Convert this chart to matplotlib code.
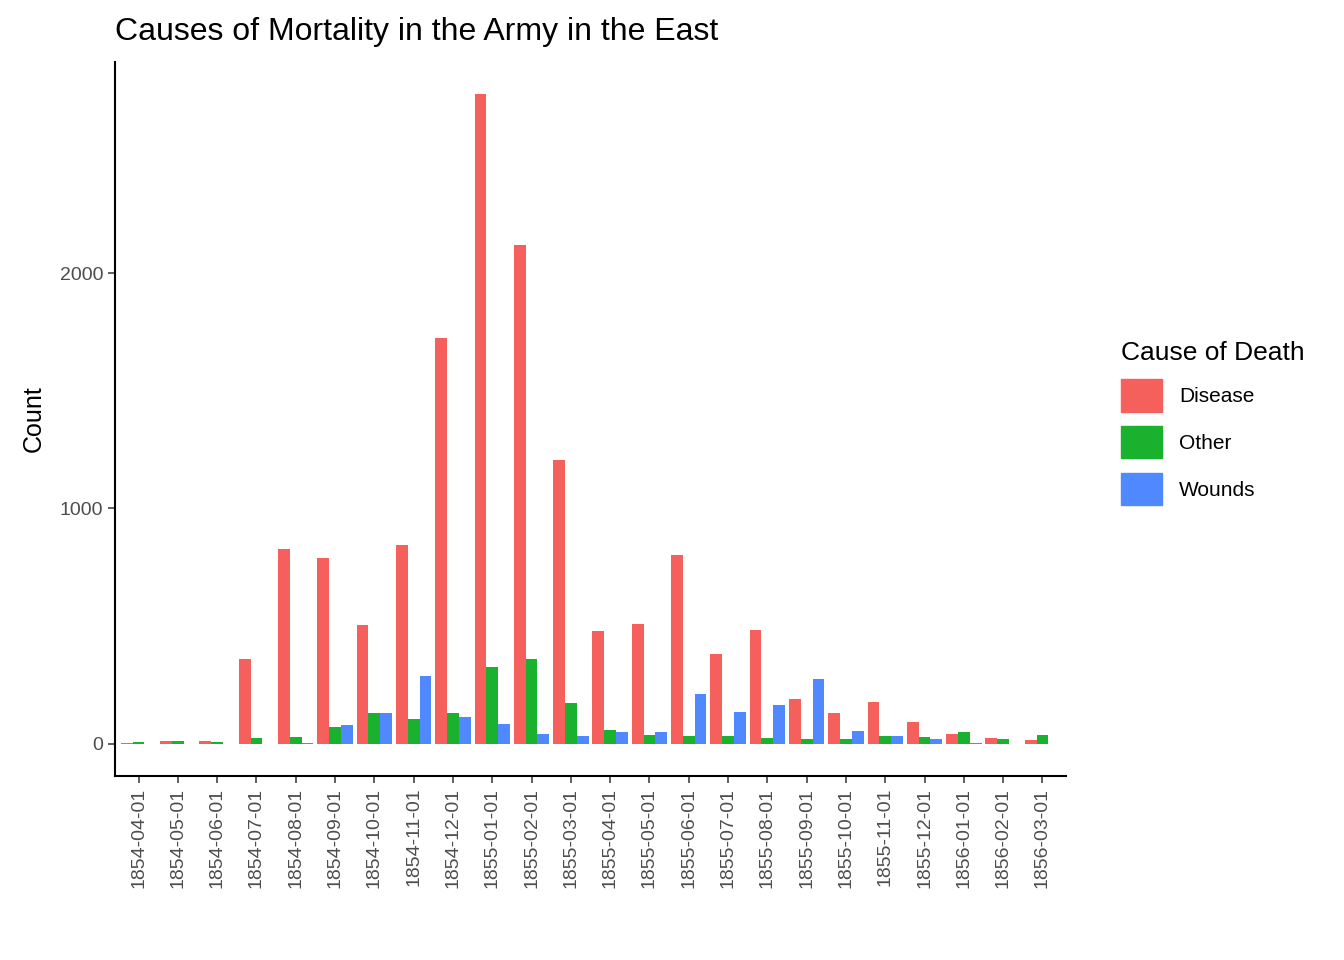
import numpy as np
import matplotlib
matplotlib.use("Agg")
import matplotlib.pyplot as plt
from matplotlib.patches import Patch

plt.rcParams['font.family'] = ['Liberation Sans', 'DejaVu Sans']

dates = ["1854-04-01", "1854-05-01", "1854-06-01", "1854-07-01", "1854-08-01", "1854-09-01",
         "1854-10-01", "1854-11-01", "1854-12-01", "1855-01-01", "1855-02-01", "1855-03-01",
         "1855-04-01", "1855-05-01", "1855-06-01", "1855-07-01", "1855-08-01", "1855-09-01",
         "1855-10-01", "1855-11-01", "1855-12-01", "1856-01-01", "1856-02-01", "1856-03-01"]
disease = [1, 12, 11, 359, 828, 788, 503, 844, 1725, 2761, 2120, 1205,
           477, 508, 802, 382, 483, 189, 128, 178, 91, 42, 24, 15]
other = [5, 9, 6, 23, 30, 70, 128, 106, 131, 324, 361, 172,
         57, 37, 31, 33, 25, 20, 18, 32, 28, 48, 19, 35]
wounds = [0, 0, 0, 0, 1, 81, 132, 287, 114, 83, 42, 32,
          48, 49, 209, 134, 164, 276, 53, 33, 18, 2, 0, 0]

colors = {"Disease": "#F5605C", "Other": "#1AB12F", "Wounds": "#5088FF"}
series = [("Disease", disease), ("Other", other), ("Wounds", wounds)]

fig = plt.figure(figsize=(13.44, 9.6), dpi=100)
ax = fig.add_axes([115 / 1344, 1 - 776 / 960, (1066 - 115) / 1344, (776 - 62) / 960])

x = np.arange(len(dates))
w = 0.9 / 3
for i, (name, vals) in enumerate(series):
    ax.bar(x + (i - 1) * w, vals, width=w, color=colors[name], linewidth=0)

ax.set_xlim(-0.6, len(dates) - 0.4)
ax.set_ylim(-138, 2899)
ax.set_xticks(x)
ax.set_xticklabels(dates, rotation=90, fontsize=14, color="#4D4D4D")
ax.set_yticks([0, 1000, 2000])
ax.set_yticklabels(["0", "1000", "2000"], fontsize=14, color="#4D4D4D")
ax.tick_params(length=5, width=1.1, color="#333333")
for s in ["top", "right"]:
    ax.spines[s].set_visible(False)
for s in ["left", "bottom"]:
    ax.spines[s].set_linewidth(1.5)
ax.set_ylabel("Count", fontsize=18, labelpad=10)
ax.set_title("Causes of Mortality in the Army in the East", fontsize=23, loc="left", x=0.0, pad=16)

handles = [Patch(color=colors[n], label=n) for n, _ in series]
fig.legend(handles=handles, title="Cause of Death", loc="upper left",
           bbox_to_anchor=(1102 / 1344, 1 - 322 / 960), frameon=False,
           fontsize=15, title_fontsize=19, handlelength=2.0, handleheight=2.0,
           labelspacing=0.7, handletextpad=0.8, alignment="left")

fig.savefig("out.png", dpi=100)
